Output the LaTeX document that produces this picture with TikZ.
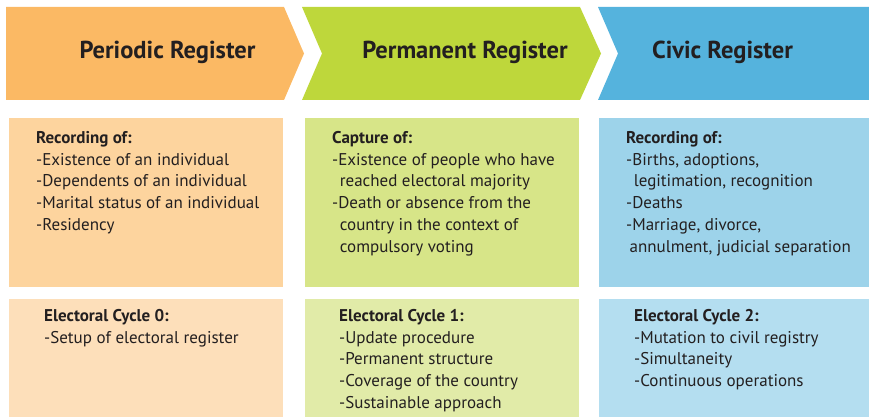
\documentclass[tikz,border=0pt]{standalone}
\usepackage{fontspec}
\setmainfont{PT Sans}
\definecolor{hdrO}{HTML}{FBB964}
\definecolor{hdrG}{HTML}{BED73B}
\definecolor{hdrB}{HTML}{55B3DD}
\definecolor{midO}{HTML}{FDD49E}
\definecolor{midG}{HTML}{D7E588}
\definecolor{midB}{HTML}{9DD3EA}
\definecolor{lowO}{HTML}{FDDFBA}
\definecolor{lowG}{HTML}{E1EBA8}
\definecolor{lowB}{HTML}{B4DEF0}
\definecolor{ink}{HTML}{231F20}
\tikzset{
  title/.style={anchor=base, inner sep=0pt, text=ink, font=\fontsize{24.5}{28}\selectfont\bfseries},
  body/.style={anchor=north west, inner sep=0pt, align=left, text=ink, font=\fontsize{17}{21.75}\selectfont}
}
\begin{document}
\begin{tikzpicture}[x=1pt,y=-1pt]
\useasboundingbox (0,0) rectangle (869,417);
% headers
\fill[hdrO] (6,7) -- (284,7) -- (304,53.5) -- (284,100) -- (6,100) -- cycle;
\fill[hdrG] (302,7) -- (580,7) -- (601,53.5) -- (580,100) -- (302,100) -- (322,53.5) -- cycle;
\fill[hdrB] (598,7) -- (869,7) -- (869,100) -- (598,100) -- (618,53.5) -- cycle;
\node[title] (h1) at (167.5,59) {Periodic Register};
\node[title] (h2) at (465,59) {Permanent Register};
\node[title] (h3) at (722.5,59) {Civic Register};
% middle boxes
\fill[midO] (9,118) rectangle (283,287);
\fill[midG] (305,118) rectangle (579,287);
\fill[midB] (599,118) rectangle (869,287);
% lower boxes
\fill[lowO] (9,299) rectangle (283,417);
\fill[lowG] (305,299) rectangle (579,417);
\fill[lowB] (599,299) rectangle (869,417);
% texts
\node[body] (m1) at (36,131) {\textbf{Recording of:}\\-Existence of an individual\\-Dependents of an individual\\-Marital status of an individual\\-Residency};
\node[body] (m2) at (332,131) {\textbf{Capture of:}\\-Existence of people who have\\\hspace{0.45em}reached electoral majority\\-Death or absence from the\\\hspace{0.45em}country in the context of\\\hspace{0.45em}compulsory voting};
\node[body] (m3) at (626,131) {\textbf{Recording of:}\\-Births, adoptions,\\\hspace{0.45em}legitimation, recognition\\-Deaths\\-Marriage, divorce,\\\hspace{0.2em}annulment, judicial separation};
\node[body] (l1) at (44,309) {\textbf{Electoral Cycle 0:}\\-Setup of electoral register};
\node[body] (l2) at (339,309) {\textbf{Electoral Cycle 1:}\\-Update procedure\\-Permanent structure\\-Coverage of the country\\-Sustainable approach};
\node[body] (l3) at (634,309) {\textbf{Electoral Cycle 2:}\\-Mutation to civil registry\\-Simultaneity\\-Continuous operations};
\end{tikzpicture}
\end{document}
